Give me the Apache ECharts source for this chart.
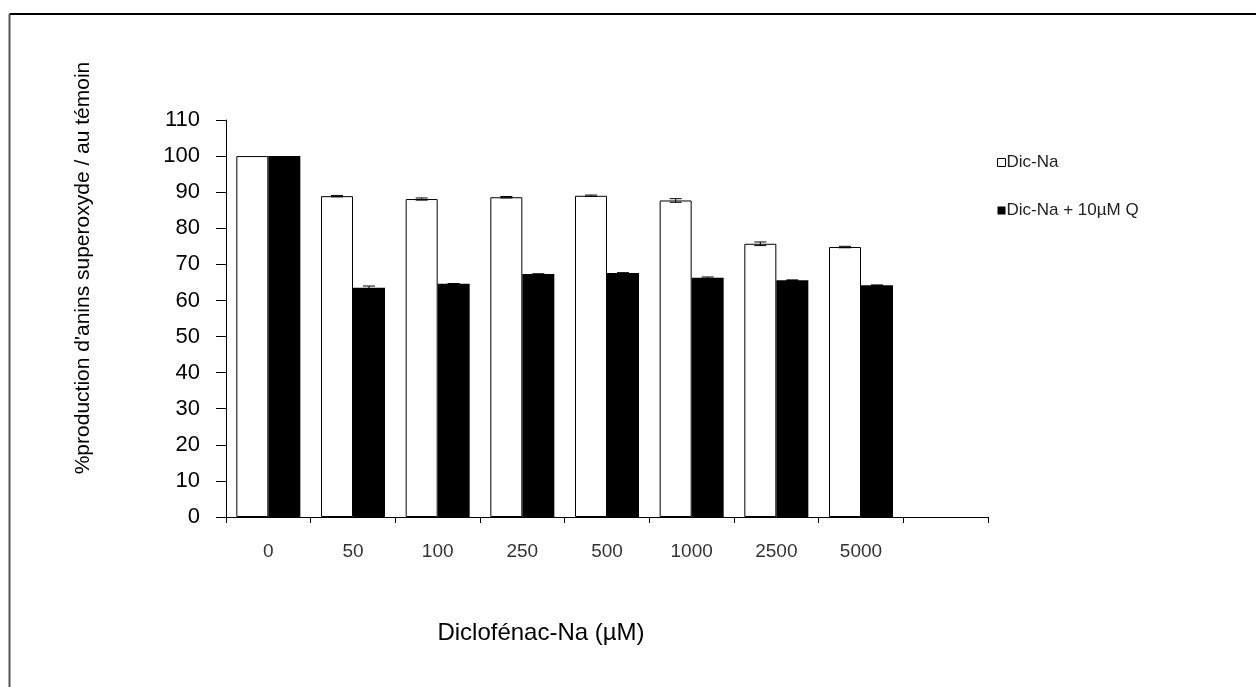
<!DOCTYPE html>
<html>
<head>
<meta charset="utf-8">
<script src="https://cdn.jsdelivr.net/npm/echarts@6/dist/echarts.min.js"></script>
<style>
  html, body { margin: 0; padding: 0; background: #fff; }
  #main { width: 1256px; height: 687px; }
</style>
</head>
<body>
<div id="main"></div>
<script>
// categories (last one is empty, as in the original plot)
var doses = ['0', '50', '100', '250', '500', '1000', '2500', '5000', ''];
var yTicks = [0, 10, 20, 30, 40, 50, 60, 70, 80, 90, 100, 110];

var dicNa = [100, 88.9, 88.1, 88.6, 89.0, 87.7, 75.7, 74.8];
var dicNaErr = [0, 0.2, 0.3, 0.2, 0.2, 0.5, 0.5, 0.2];

var dicNaQ = [100, 63.5, 64.6, 67.3, 67.6, 66.3, 65.6, 64.2];
var dicNaQErr = [0, 0.5, 0.1, 0.1, 0.1, 0.2, 0.1, 0.1];

var font = 'Liberation Sans, Arial, sans-serif';
var barW = 32;

function errData(vals, errs) {
    var out = [];
    for (var i = 0; i < vals.length; i++) {
        if (errs[i] > 0) {
            out.push([i, vals[i] - errs[i], vals[i] + errs[i]]);
        }
    }
    return out;
}

function errRenderer(shift) {
    return function (params, api) {
        var lo = api.coord([api.value(0), api.value(1)]);
        var hi = api.coord([api.value(0), api.value(2)]);
        var x = lo[0] + shift;
        var cap = 6;
        var style = { stroke: '#000', lineWidth: 1 };
        return {
            type: 'group',
            children: [
                { type: 'line', shape: { x1: x, y1: lo[1], x2: x, y2: hi[1] }, style: style },
                { type: 'line', shape: { x1: x - cap, y1: hi[1], x2: x + cap, y2: hi[1] }, style: style },
                { type: 'line', shape: { x1: x - cap, y1: lo[1], x2: x + cap, y2: lo[1] }, style: style }
            ]
        };
    };
}

var myChart = echarts.init(document.getElementById('main'));
myChart.setOption({
    animation: false,
    backgroundColor: '#fff',
    textStyle: { fontFamily: font },
    graphic: [
        { type: 'line', shape: { x1: 9.5, y1: 14, x2: 1256, y2: 14 }, style: { stroke: '#000', lineWidth: 2 } },
        { type: 'line', shape: { x1: 9.5, y1: 14, x2: 9.5, y2: 687 }, style: { stroke: '#555', lineWidth: 2 } },
        {
            type: 'text',
            x: 83,
            y: 268,
            rotation: Math.PI / 2,
            style: {
                text: "%production d'anins superoxyde / au témoin",
                font: '21px ' + font,
                fill: '#000',
                textAlign: 'center',
                textVerticalAlign: 'middle'
            }
        }
    ],
    grid: {
        left: 226,
        right: 268,
        top: 120,
        bottom: 170
    },
    legend: {
        orient: 'vertical',
        left: 992,
        top: 149,
        itemWidth: 8,
        itemHeight: 8,
        itemGap: 31,
        icon: 'rect',
        textStyle: { fontFamily: font, fontSize: 17, color: '#222', padding: [0, 0, 0, -4] },
        data: [
            { name: 'Dic-Na', itemStyle: { color: '#fff', borderColor: '#000', borderWidth: 1 } },
            { name: 'Dic-Na + 10µM Q', itemStyle: { color: '#000' } }
        ]
    },
    xAxis: {
        type: 'category',
        data: doses,
        name: 'Diclofénac-Na (µM)',
        nameLocation: 'middle',
        nameGap: 104,
        nameTextStyle: { fontFamily: font, fontSize: 24, color: '#000', padding: [0, 132, 0, 0] },
        axisLine: { lineStyle: { color: '#000', width: 1 } },
        axisTick: { show: true, length: 6, lineStyle: { color: '#000' } },
        axisLabel: { fontFamily: font, fontSize: 19, color: '#333', margin: 25 },
        splitLine: { show: false }
    },
    yAxis: {
        type: 'value',
        min: yTicks[0],
        max: yTicks[yTicks.length - 1],
        interval: 10,
        axisLine: { show: true, lineStyle: { color: '#000', width: 1 } },
        axisTick: { show: true, length: 10, lineStyle: { color: '#000' } },
        axisLabel: { fontFamily: font, fontSize: 22, color: '#000', margin: 26 },
        splitLine: { show: false }
    },
    series: [
        {
            name: 'Dic-Na',
            type: 'bar',
            data: dicNa,
            barWidth: barW,
            barGap: '0%',
            itemStyle: { color: '#fff', borderColor: '#000', borderWidth: 1 }
        },
        {
            name: 'Dic-Na + 10µM Q',
            type: 'bar',
            data: dicNaQ,
            barWidth: barW,
            barGap: '0%',
            itemStyle: { color: '#000' }
        },
        {
            type: 'custom',
            renderItem: errRenderer(-barW / 2),
            encode: { x: 0, y: [1, 2] },
            data: errData(dicNa, dicNaErr),
            z: 10
        },
        {
            type: 'custom',
            renderItem: errRenderer(barW / 2),
            encode: { x: 0, y: [1, 2] },
            data: errData(dicNaQ, dicNaQErr),
            z: 10
        }
    ]
});
</script>
</body>
</html>
